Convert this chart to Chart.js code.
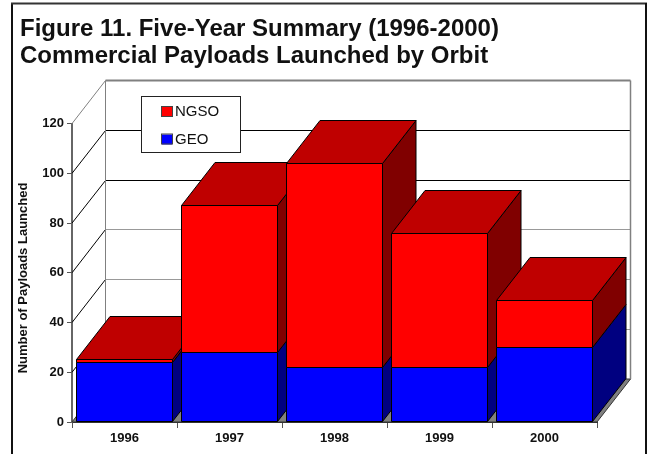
<!DOCTYPE html>
<html>
<head>
<meta charset="utf-8">
<title>Figure 11</title>
<script src="https://cdn.jsdelivr.net/npm/chart.js@4"></script>
<style>
    html, body { margin: 0; padding: 0; background: #fff; overflow: hidden; }
    canvas { display: block; }
</style>
</head>
<body>
<canvas id="payloads" width="651" height="454"></canvas>
<script>
const years = ['1996', '1997', '1998', '1999', '2000'];
const geoValues = [24, 28, 22, 22, 30];
const ngsoValues = [1, 59, 82, 54, 19];
const titleLines = ['Figure 11. Five-Year Summary (1996-2000)', 'Commercial Payloads Launched by Orbit'];
const yAxisTitle = 'Number of Payloads Launched';

// how far the back of the box sits from the front plane
const depthX = 33.5;
const depthY = 43;

const fontFamily = '"Liberation Sans", Arial, sans-serif';

// keep 1px lines on whole pixels
function snap(v) {
    return Math.floor(v) + 0.5;
}

function poly(ctx, points, fill, stroke) {
    ctx.beginPath();
    points.forEach((p, i) => i ? ctx.lineTo(p[0], p[1]) : ctx.moveTo(p[0], p[1]));
    ctx.closePath();
    if (fill) {
        ctx.fillStyle = fill;
        ctx.fill();
    }
    if (stroke) {
        ctx.strokeStyle = stroke;
        ctx.lineWidth = 1;
        ctx.stroke();
    }
}

function line(ctx, x1, y1, x2, y2, color, width) {
    ctx.beginPath();
    ctx.moveTo(x1, y1);
    ctx.lineTo(x2, y2);
    ctx.strokeStyle = color;
    ctx.lineWidth = width || 1;
    ctx.stroke();
}

// Back wall, side wall, floor and outer frame
const boxPlugin = {
    id: 'box',
    beforeDatasetsDraw(chart) {
        const { ctx, chartArea: area, scales: { y } } = chart;
        ctx.save();

        // outer frame, open at the bottom edge of the page
        line(ctx, 12, 3.5, 12, 454, '#111', 2);
        line(ctx, 11, 3.5, 647, 3.5, '#333', 2);
        line(ctx, 646, 3, 646, 454, '#111', 2);

        const y0 = y.getPixelForValue(0);

        // floor
        poly(ctx, [[area.left, y0], [area.right, y0],
            [area.right + depthX, y0 - depthY], [area.left + depthX, y0 - depthY]], '#808080', '#333');

        // grid lines across the side wall and back wall
        y.ticks.forEach(tick => {
            if (tick.value === 0) return;
            const py = y.getPixelForValue(tick.value);
            const backY = snap(py - depthY);
            const top = tick.value === y.max;
            const dim = tick.value <= 60;
            const sideColor = top ? '#808080' : '#000';
            const backColor = top ? '#808080' : (dim ? '#999' : '#000');
            line(ctx, area.left, py, area.left + depthX, backY, sideColor, 1);
            line(ctx, area.left + depthX, backY, area.right + depthX, backY, backColor, top ? 2 : 1);
        });

        // wall edges
        const topY = y.getPixelForValue(y.max) - depthY;
        line(ctx, area.left + depthX, topY, area.left + depthX, y0 - depthY, '#808080', 1);
        line(ctx, area.right + depthX, topY, area.right + depthX, y0 - depthY, '#808080', 1.5);

        // tops and right sides of the bars, left to right so later ones overlap earlier ones
        const metas = chart.data.datasets.map((d, i) => chart.getDatasetMeta(i));
        years.forEach((year, index) => {
            metas.forEach((meta, m) => {
                const bar = meta.data[index];
                const left = snap(bar.x - bar.width / 2);
                const right = snap(bar.x + bar.width / 2);
                const barY = snap(bar.y);
                const base = snap(bar.base);
                const sideFill = chart.data.datasets[m].sideColor;
                poly(ctx, [[right, barY], [right, base],
                    [right + depthX, base - depthY], [right + depthX, barY - depthY]], sideFill, '#000');
                if (m === metas.length - 1) {
                    poly(ctx, [[left, barY], [right, barY],
                        [right + depthX, barY - depthY], [left + depthX, barY - depthY]], chart.data.datasets[m].topColor, '#000');
                }
            });
        });
        ctx.restore();
    },
    afterDatasetsDraw(chart) {
        const ctx = chart.ctx;
        ctx.save();

        // crisp outlines on the front faces
        chart.data.datasets.forEach((d, m) => {
            chart.getDatasetMeta(m).data.forEach(bar => {
                const left = snap(bar.x - bar.width / 2);
                const right = snap(bar.x + bar.width / 2);
                const barY = snap(bar.y);
                const base = snap(bar.base);
                poly(ctx, [[left, barY], [right, barY], [right, base], [left, base]], d.backgroundColor, '#000');
            });
        });

        // legend, NGSO listed first
        ctx.fillStyle = '#fff';
        ctx.fillRect(141.5, 96.5, 99, 56);
        ctx.strokeStyle = '#222';
        ctx.lineWidth = 1;
        ctx.strokeRect(141.5, 96.5, 99, 56);
        ctx.font = '15px ' + fontFamily;
        ctx.textBaseline = 'middle';
        [...chart.data.datasets].reverse().forEach((d, i) => {
            const rowY = 107 + i * 27.5;
            ctx.fillStyle = d.backgroundColor;
            ctx.fillRect(162, rowY, 10, 10);
            ctx.strokeStyle = '#444';
            ctx.strokeRect(161.5, rowY - 0.5, 11, 10);
            ctx.fillStyle = '#111';
            ctx.fillText(d.label, 175, rowY + 5);
        });

        // y axis title sits a little below the middle of the axis, so not the scale's own title
        ctx.translate(23, 278);
        ctx.rotate(-Math.PI / 2);
        ctx.font = 'bold 13px ' + fontFamily;
        ctx.fillStyle = '#111';
        ctx.textAlign = 'center';
        ctx.fillText(yAxisTitle, 0, 0);
        ctx.restore();
    }
};

const ctx = document.getElementById('payloads').getContext('2d');

new Chart(ctx, {
    type: 'bar',
    data: {
        labels: years,
        datasets: [
            { label: 'GEO', data: geoValues, backgroundColor: '#0000FF', sideColor: '#000080', topColor: '#0000BF', borderWidth: 0 },
            { label: 'NGSO', data: ngsoValues, backgroundColor: '#FF0000', sideColor: '#800000', topColor: '#BF0000', borderWidth: 0 }
        ]
    },
    options: {
        responsive: false,
        animation: false,
        categoryPercentage: 0.91,
        barPercentage: 1,
        layout: { padding: { left: 20, right: 54, top: 0, bottom: 0 } },
        scales: {
            x: {
                stacked: true,
                afterFit(scale) { scale.height = 32; },
                grid: { drawOnChartArea: false, color: '#555', tickLength: 6 },
                border: { color: '#333', width: 1 },
                ticks: { color: '#111', padding: 3, maxRotation: 0, font: { family: fontFamily, size: 13, weight: 'bold' } }
            },
            y: {
                stacked: true,
                min: 0,
                max: 120,
                afterFit(scale) { scale.width = 52; },
                grid: { drawOnChartArea: false, color: '#555', tickLength: 5 },
                border: { color: '#666', width: 2 },
                ticks: { stepSize: 20, color: '#111', padding: 3, font: { family: fontFamily, size: 13, weight: 'bold' } }
            }
        },
        plugins: {
            legend: { display: false },
            tooltip: { enabled: false },
            title: {
                display: true,
                text: titleLines,
                align: 'start',
                color: '#111',
                padding: { top: 15.3, bottom: 53.6 },
                font: { family: fontFamily, size: 24, weight: 'bold', lineHeight: 1.14 }
            }
        }
    },
    plugins: [boxPlugin]
});
</script>
</body>
</html>
